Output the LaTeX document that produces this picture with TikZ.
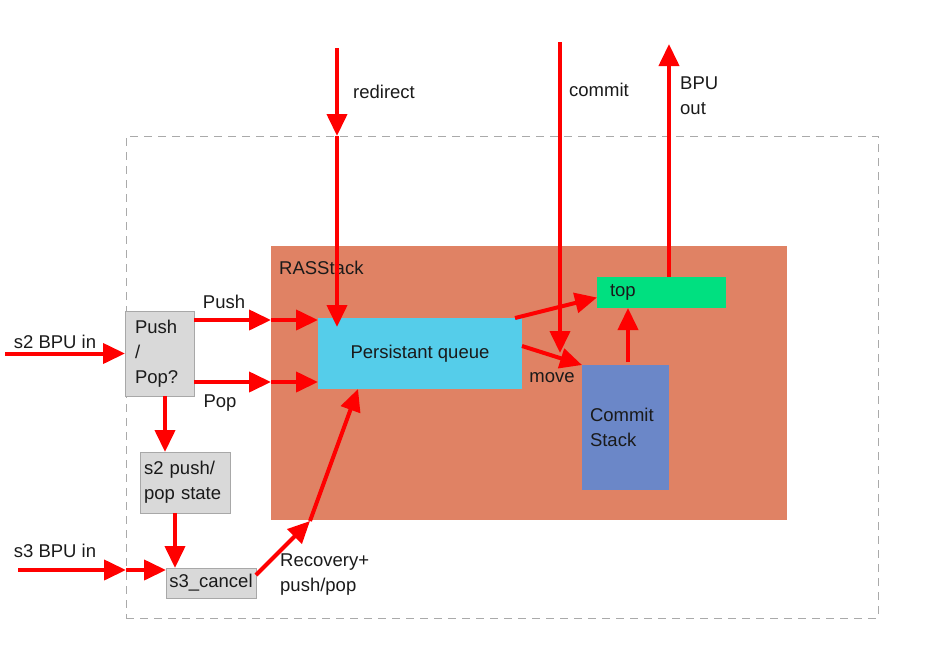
\documentclass[tikz,border=0pt]{standalone}
\usepackage{fontspec}
\setmainfont{Liberation Sans}
\usetikzlibrary{arrows.meta}
\definecolor{rascol}{HTML}{E08264}
\definecolor{pqcol}{HTML}{55CDEA}
\definecolor{topcol}{HTML}{00E080}
\definecolor{cscol}{HTML}{6B87C8}
\definecolor{graybox}{HTML}{D9D9D9}
\definecolor{grayline}{HTML}{A8A8A8}
\definecolor{dashcol}{HTML}{AAAAAA}
\definecolor{txt}{HTML}{1A1A1A}
\begin{document}
\begin{tikzpicture}[x=1pt,y=-1pt,
  every node/.style={font=\fontsize{18.5}{25}\selectfont, text=txt},
  blk/.style={anchor=north west, inner sep=0pt, outer sep=0pt},
  gbox/.style={blk, fill=graybox, draw=grayline, line width=0.8pt, align=left},
  lbl/.style={inner sep=0pt, align=left},
  arr/.style={draw=red, line width=4pt, -{Triangle[length=22pt,width=20pt]}},
  ln/.style={draw=red, line width=4pt}
]
\useasboundingbox (0,0) rectangle (945,662);
% outer dashed box
\node[blk, draw=dashcol, line width=0.9pt, dash pattern=on 8pt off 6pt, minimum width=752pt, minimum height=482pt] (outer) at (126,136) {};
% RASStack
\node[blk, fill=rascol, minimum width=516pt, minimum height=274pt] (ras) at (271,246) {};
\node[lbl, anchor=west] (raslbl) at (279,268) {RASStack};
% Persistant queue
\node[blk, fill=pqcol, minimum width=204pt, minimum height=71pt] (pq) at (318,318) {Persistant queue};
% top
\node[blk, fill=topcol, minimum width=129pt, minimum height=31pt, align=left, text width=103pt, inner xsep=13pt] (top) at (597,277) {top};
% Commit Stack
\node[blk, fill=cscol, minimum width=87pt, minimum height=125pt, align=left, text width=71pt, inner xsep=8pt] (cs) at (582,365) {Commit\\Stack};
% Push/Pop?
\node[gbox, minimum width=69pt, minimum height=85pt, text width=49pt, inner xsep=10pt] (pp) at (125,311) {Push\\/\\Pop?};
% s2 push/pop state
\node[gbox, minimum width=90pt, minimum height=61pt, text width=82pt, inner xsep=4pt] (st) at (140,452) {s2 push/\\pop state};
% s3_cancel
\node[gbox, minimum width=90pt, minimum height=30pt, align=center] (cancel) at (166,568) {s3\_cancel};

% labels
\node[lbl] (l1) at (55,342) {s2 BPU in};
\node[lbl] (l2) at (224,302) {Push};
\node[lbl] (l3) at (220,403) {Pop};
\node[lbl] (l4) at (55,551) {s3 BPU in};
\node[lbl, anchor=west] (l5) at (280,575) {Recovery+\\push/pop};
\node[lbl, anchor=west] (l6) at (353,92) {redirect};
\node[lbl, anchor=west] (l7) at (569,90) {commit};
\node[lbl, anchor=west] (l8) at (680,96) {BPU\\out};
\node[lbl] (l9) at (552,378) {move};

% coordinates
\coordinate (s2in) at (5,353.5);
\coordinate (pushM) at (271,320);
\coordinate (popM) at (271,382);
\coordinate (s3in) at (18,570);
\coordinate (s3M) at (126,570);
\coordinate (recM) at (310,521);
\coordinate (rd) at (337,48);
\coordinate (rdM) at (337,136);
\coordinate (cm) at (560,42);
\coordinate (cmE) at (560,353);
\coordinate (bo) at (669,44);

% connectors
\draw[arr] (s2in) -- (pp.west);
\draw[arr] (pp.east |- pushM) -- (pushM);
\draw[arr] (pushM) -- (pq.west |- pushM);
\draw[arr] (pp.east |- popM) -- (popM);
\draw[arr] (popM) -- (pq.west |- popM);
\draw[arr] ([xshift=5.5pt]pp.south) -- ([xshift=5.5pt]pp.south |- st.north);
\draw[arr] ([xshift=-10pt]st.south) -- ([xshift=-10pt]st.south |- cancel.north);
\draw[arr] (s3in) -- (s3M);
\draw[arr] (s3M) -- (cancel.west |- s3M);
\draw[arr] ([yshift=8pt]cancel.east) -- (recM);
\draw[arr] (recM) -- ([xshift=-62pt]pq.south);
\draw[arr] (rd) -- (rdM);
\draw[arr] (rdM) -- ([xshift=-83pt,yshift=-9pt]pq.north);
\draw[arr] (cm) -- (cmE);
\draw[arr] ([xshift=7.5pt]top.north) -- (bo);
\draw[arr] ([xshift=-7pt]pq.north east) -- ([yshift=-5pt]top.west);
\draw[arr] ([yshift=7.5pt]pq.east) -- (cs.north west);
\draw[arr] ([xshift=2.5pt,yshift=3pt]cs.north) -- ([xshift=2.5pt]cs.north |- top.south);
\end{tikzpicture}
\end{document}
